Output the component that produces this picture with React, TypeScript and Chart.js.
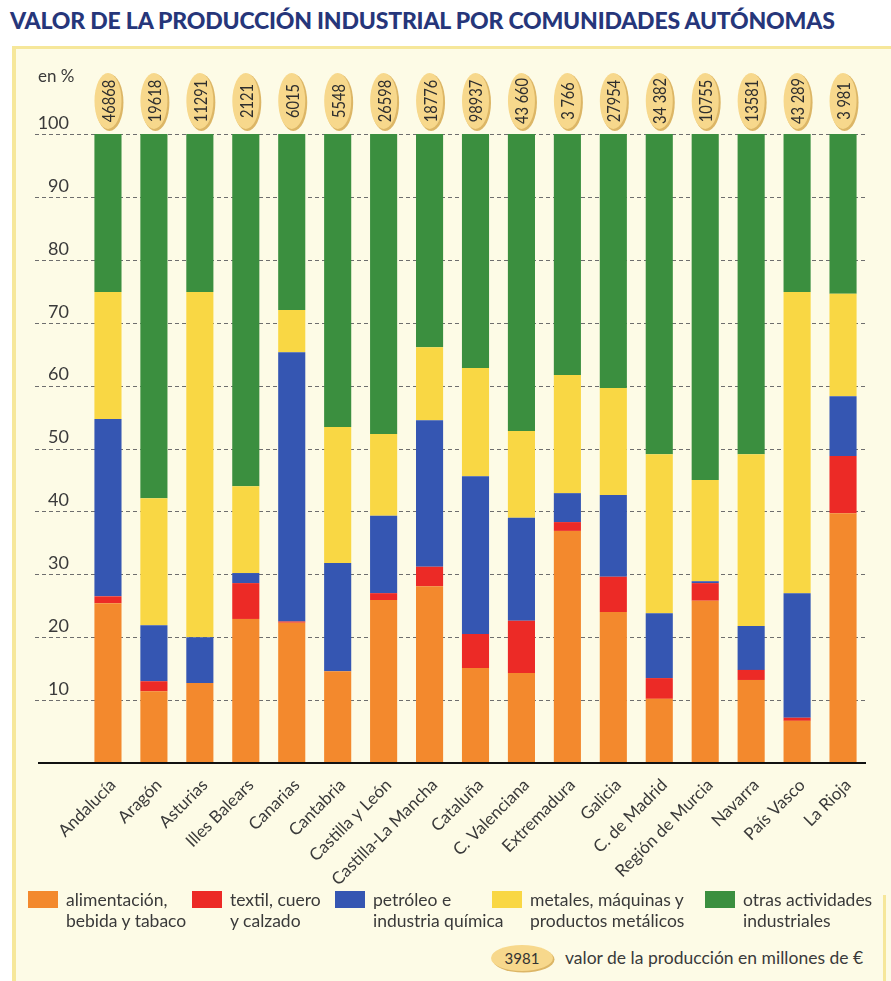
import React, { useEffect, useRef } from "react";
import { Chart, registerables } from "chart.js";

Chart.register(...registerables);

const categories = [
  "Andalucía", "Aragón", "Asturias", "Illes Balears", "Canarias", "Cantabria",
  "Castilla y León", "Castilla-La Mancha", "Cataluña", "C. Valenciana", "Extremadura",
  "Galicia", "C. de Madrid", "Región de Murcia", "Navarra", "País Vasco", "La Rioja",
];
const productionValues = [
  "46868", "19618", "11291", "2121", "6015", "5548", "26598", "18776", "98937",
  "43 660", "3 766", "27954", "34 382", "10755", "13581", "43 289", "3 981",
];
const alimentacion = [25.4, 11.4, 12.7, 22.9, 22.3, 14.6, 25.9, 28.1, 15.1, 14.3, 36.9, 24.0, 10.2, 25.8, 13.2, 6.7, 39.7];
const textil = [1.1, 1.6, 0, 5.7, 0.2, 0, 1.1, 3.1, 5.4, 8.3, 1.4, 5.6, 3.3, 2.8, 1.6, 0.5, 9.1];
const petroleo = [28.2, 8.9, 7.3, 1.6, 42.8, 17.2, 12.3, 23.3, 25.1, 16.4, 4.6, 13.0, 10.3, 0.3, 7.0, 19.8, 9.5];
const metales = [20.2, 20.2, 54.9, 13.8, 6.7, 21.6, 13.0, 11.6, 17.2, 13.8, 18.8, 17.0, 25.3, 16.1, 27.3, 47.9, 16.3];
const otras = [25.1, 57.9, 25.1, 56.0, 28.0, 46.6, 47.7, 33.9, 37.2, 47.2, 38.3, 40.4, 50.9, 55.0, 50.9, 25.1, 25.4];
const yTickLabels = [10, 20, 30, 40, 50, 60, 70, 80, 90, 100];

const seriesNames = [
  ["alimentación,", "bebida y tabaco"],
  ["textil, cuero", "y calzado"],
  ["petróleo e", "industria química"],
  ["metales, máquinas y", "productos metálicos"],
  ["otras actividades", "industriales"],
];
const noteValue = "3981";
const noteText = "valor de la producción en millones de €";
const titleText = "VALOR DE LA PRODUCCIÓN INDUSTRIAL POR COMUNIDADES AUTÓNOMAS";

const COLORS = ["#f3892d", "#ec2a26", "#3556b2", "#f9d744", "#3b8f3f"];
const FONT = "Lato, 'Open Sans', sans-serif";
const TEXT = "#3a3a3a";
const LEGEND_X = [28, 192, 335, 492, 705];

const decorPlugin = {
  id: "decor",
  beforeDatasetsDraw(chart: any) {
    const { ctx } = chart;
    const y = chart.scales.y;
    ctx.save();
    ctx.strokeStyle = "#6e6e6e";
    ctx.lineWidth = 1;
    ctx.setLineDash([4, 3]);
    for (const v of yTickLabels) {
      const py = Math.round(y.getPixelForValue(v)) + 0.5;
      ctx.beginPath();
      ctx.moveTo(35, py);
      ctx.lineTo(868, py);
      ctx.stroke();
    }
    ctx.restore();
  },
  afterDatasetsDraw(chart: any) {
    const { ctx } = chart;
    const x = chart.scales.x;
    const y = chart.scales.y;
    ctx.save();
    const py0 = y.getPixelForValue(0);
    ctx.strokeStyle = "#111";
    ctx.lineWidth = 2;
    ctx.beginPath();
    ctx.moveTo(38, py0);
    ctx.lineTo(866, py0);
    ctx.stroke();
    ctx.fillStyle = TEXT;
    ctx.font = `18px ${FONT}`;
    ctx.textAlign = "right";
    ctx.textBaseline = "middle";
    for (const v of yTickLabels) {
      ctx.fillText(String(v), 69, y.getPixelForValue(v) - 11);
    }
    ctx.textAlign = "left";
    ctx.font = `17px ${FONT}`;
    ctx.fillText("en %", 38, 77);
    const cy = 101;
    productionValues.forEach((val, i) => {
      const cx = x.getPixelForValue(i);
      ctx.fillStyle = "#dcb666";
      ctx.beginPath();
      ctx.ellipse(cx + 1.5, cy + 1.5, 14, 28.5, 0, 0, Math.PI * 2);
      ctx.fill();
      ctx.fillStyle = "#f7d88c";
      ctx.beginPath();
      ctx.ellipse(cx, cy, 13.5, 28, 0, 0, Math.PI * 2);
      ctx.fill();
      ctx.save();
      ctx.translate(cx + 0.5, cy);
      ctx.rotate(-Math.PI / 2);
      ctx.scale(0.86, 1);
      ctx.fillStyle = "#2e2e2e";
      ctx.font = `17px ${FONT}`;
      ctx.textAlign = "center";
      ctx.textBaseline = "middle";
      ctx.fillText(val, 0, 1);
      ctx.restore();
    });
    ctx.restore();
  },
};

export default function App() {
  const ref = useRef<HTMLCanvasElement | null>(null);
  useEffect(() => {
    if (!ref.current) return;
    const chart = new Chart(ref.current, {
      type: "bar",
      data: {
        labels: categories,
        datasets: [alimentacion, textil, petroleo, metales, otras].map((d, i) => ({
          label: seriesNames[i].join(" "),
          data: d,
          backgroundColor: COLORS[i],
          borderWidth: 0,
          categoryPercentage: 1,
          barPercentage: 0.59,
        })),
      },
      options: {
        animation: false,
        responsive: false,
        devicePixelRatio: 1,
        layout: { padding: { left: 85, right: 25, top: 134, bottom: 0 } },
        plugins: { legend: { display: false }, tooltip: { enabled: false }, title: { display: false } },
        scales: {
          x: {
            stacked: true,
            grid: { display: false },
            border: { display: false },
            afterFit: (s: any) => { s.height = 132; },
            ticks: {
              autoSkip: false,
              minRotation: 45,
              maxRotation: 45,
              padding: 4,
              labelOffset: 5,
              color: TEXT,
              font: { family: FONT, size: 17 },
            },
          },
          y: {
            stacked: true,
            display: false,
            min: 0,
            max: 100,
          },
        },
      },
      plugins: [decorPlugin],
    });
    return () => chart.destroy();
  }, []);

  return (
    <div style={{ position: "absolute", left: 0, top: 0, width: 891, height: 981, background: "#fff", overflow: "hidden", fontFamily: FONT }}>
      <div style={{ position: "absolute", left: 10, top: 6, fontWeight: 900, fontSize: 23, color: "#26367a", whiteSpace: "nowrap", letterSpacing: "-0.2px" }}>
        {titleText}
      </div>
      <div style={{ position: "absolute", left: 12, top: 46, right: 0, bottom: 0, background: "#fdfbe6", borderLeft: "4px solid #f6e79a", borderTop: "3px solid #f6e79a" }} />
      <div style={{ position: "absolute", left: 883, top: 895, width: 3, height: 86, background: "#f6e79a" }} />
      <canvas ref={ref} width={891} height={895} style={{ position: "absolute", left: 0, top: 0, width: 891, height: 895 }} />
      {seriesNames.map((lines, i) => (
        <div key={i} style={{ position: "absolute", left: LEGEND_X[i], top: 891 }}>
          <div style={{ position: "absolute", left: 0, top: 0, width: 30, height: 17, background: COLORS[i] }} />
          <div style={{ position: "absolute", left: 38, top: -2, fontSize: 17.5, lineHeight: "21px", color: TEXT, whiteSpace: "nowrap" }}>
            {lines[0]}<br />{lines[1]}
          </div>
        </div>
      ))}
      <div style={{ position: "absolute", left: 491, top: 945, width: 62, height: 26, borderRadius: "50%", background: "#f7d88c", boxShadow: "1.5px 1.5px 0 #dcb666", display: "flex", alignItems: "center", justifyContent: "center", fontSize: 15, color: "#333" }}>
        {noteValue}
      </div>
      <div style={{ position: "absolute", left: 565, top: 947, fontSize: 17.5, lineHeight: "21px", color: TEXT, whiteSpace: "nowrap" }}>
        {noteText}
      </div>
    </div>
  );
}
